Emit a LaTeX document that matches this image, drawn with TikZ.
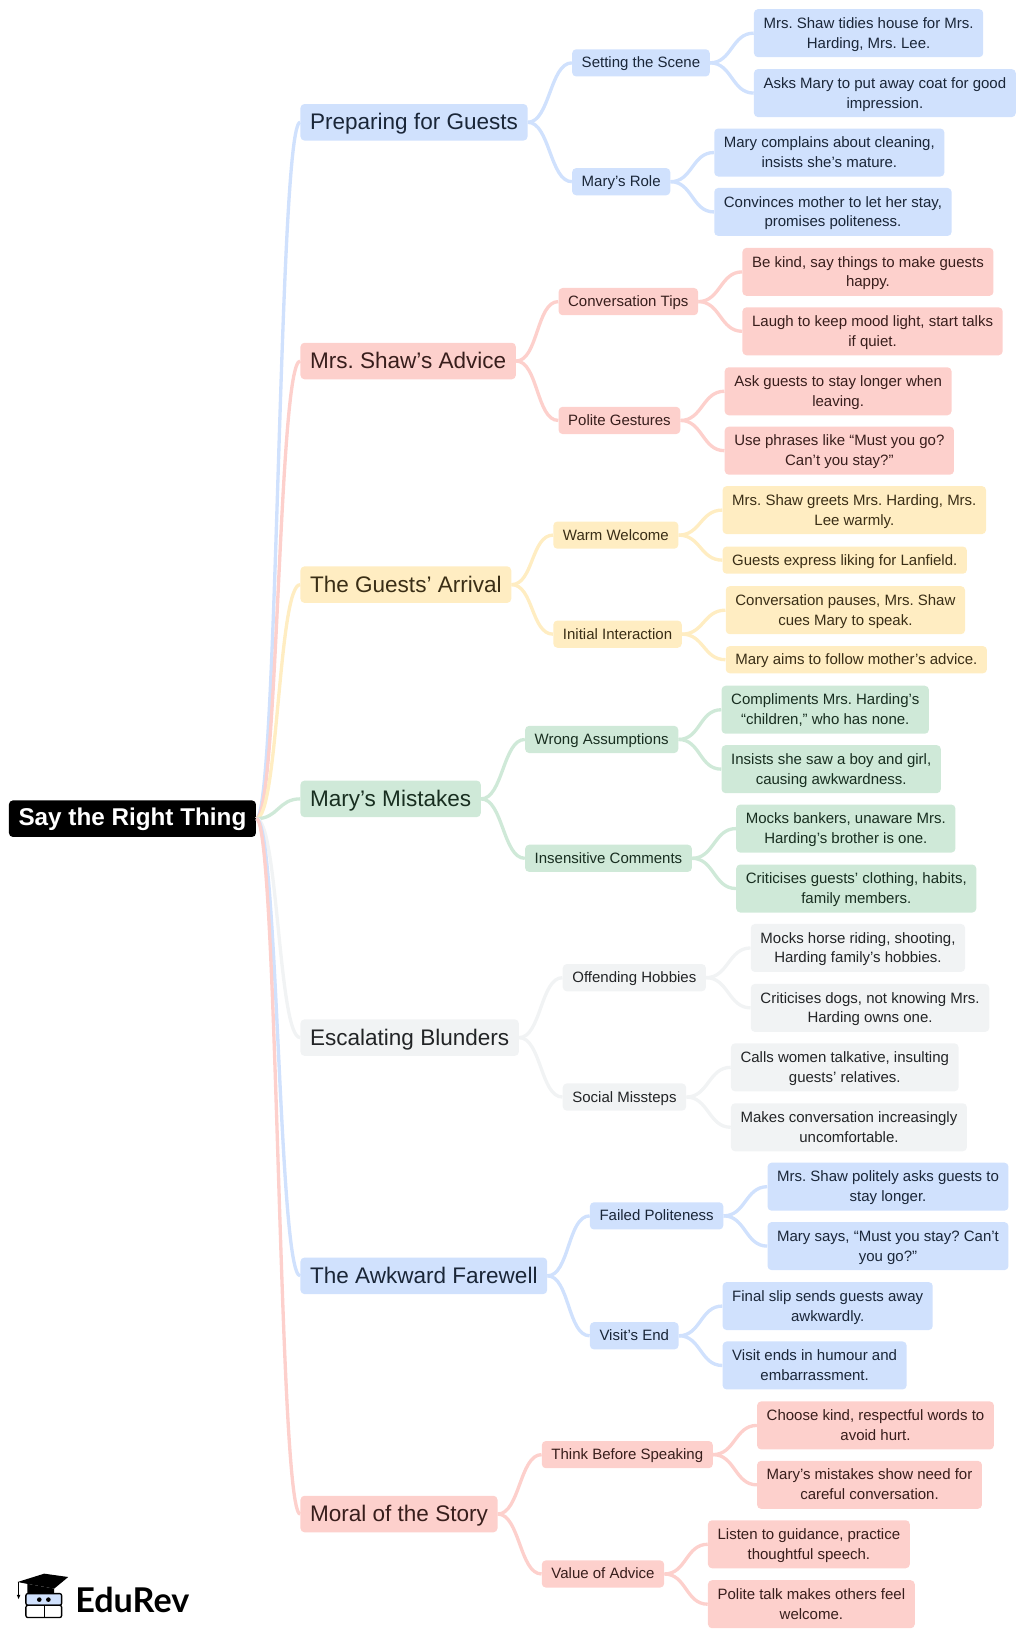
\documentclass[tikz,border=0pt]{standalone}
\usepackage{fontspec}
\setmainfont{Liberation Sans}
\newfontfamily\logofont{Lato}
\frenchspacing
\definecolor{mapblue}{HTML}{D0E1FD}
\definecolor{mapred}{HTML}{FDD0CC}
\definecolor{mapyellow}{HTML}{FFEDC2}
\definecolor{mapgreen}{HTML}{CFE9D8}
\definecolor{mapgray}{HTML}{F1F3F4}
\tikzset{
  box/.style={anchor=west, rounded corners=3pt, inner xsep=7.2pt, inner ysep=0pt, align=center},
  tintblue/.style={fill=mapblue, text={rgb,255:red,26;green,38;blue,56}},
  tintred/.style={fill=mapred, text={rgb,255:red,56;green,30;blue,28}},
  tintyellow/.style={fill=mapyellow, text={rgb,255:red,58;green,46;blue,22}},
  tintgreen/.style={fill=mapgreen, text={rgb,255:red,24;green,46;blue,32}},
  tintgray/.style={fill=mapgray, text={rgb,255:red,34;green,36;blue,38}},
  rootbox/.style={box, fill=black, text=white, font=\fontsize{18.2}{21}\selectfont\bfseries, minimum height=27.4pt,
    execute at begin node={\rule{0pt}{14.5pt}}, execute at end node={\rule[-4pt]{0pt}{4pt}}},
  topic/.style={box, font=\fontsize{16.9}{20}\selectfont, minimum height=27.4pt,
    execute at begin node={\rule{0pt}{15pt}}, execute at end node={\rule[-3.6pt]{0pt}{3.6pt}}},
  sub/.style={box, font=\fontsize{11.25}{14.9}\selectfont, minimum height=20.4pt,
    execute at begin node={\rule{0pt}{10pt}}, execute at end node={\rule[-2.5pt]{0pt}{2.5pt}}},
  leaf/.style={sub, minimum height=36pt,
    execute at begin node={\rule{0pt}{25pt}}},
  leafone/.style={sub},
  link/.style={line width=2.5pt, to path={.. controls +(21,0) and +(-21,0) .. (\tikztotarget)}},
}
\begin{document}
\begin{tikzpicture}[x=0.7837pt,y=-0.7819pt]
  \useasboundingbox (0.7,-1.3) rectangle (980.7,1568);
  \node[rootbox] (root) at (9,784) {Say the Right Thing};
  % main topics
  \node[topic, tintblue] (guests) at (288,116) {Preparing for Guests};
  \node[topic, tintred] (advice) at (288,345) {Mrs. Shaw’s Advice};
  \node[topic, tintyellow] (arrival) at (288,559.5) {The Guests’ Arrival};
  \node[topic, tintgreen] (mistakes) at (288,765) {Mary’s Mistakes};
  \node[topic, tintgray] (blunders) at (288,994) {Escalating Blunders};
  \node[topic, tintblue] (farewell) at (288,1222.5) {The Awkward Farewell};
  \node[topic, tintred] (moral) at (288,1451) {Moral of the Story};
  % subtopics
  \node[sub, tintblue] (scene) at (548,59) {Setting the Scene};
  \node[sub, tintblue] (role) at (548,173) {Mary’s Role};
  \node[sub, tintred] (tips) at (535,288) {Conversation Tips};
  \node[sub, tintred] (gestures) at (535,402) {Polite Gestures};
  \node[sub, tintyellow] (welcome) at (530,512) {Warm Welcome};
  \node[sub, tintyellow] (interact) at (530,607) {Initial Interaction};
  \node[sub, tintgreen] (assume) at (503,708) {Wrong Assumptions};
  \node[sub, tintgreen] (comments) at (503,822) {Insensitive Comments};
  \node[sub, tintgray] (hobbies) at (539,936.5) {Offending Hobbies};
  \node[sub, tintgray] (missteps) at (539,1051) {Social Missteps};
  \node[sub, tintblue] (polite) at (565,1165) {Failed Politeness};
  \node[sub, tintblue] (visit) at (565,1280) {Visit’s End};
  \node[sub, tintred] (think) at (519,1394) {Think Before Speaking};
  \node[sub, tintred] (value) at (519,1508.5) {Value of Advice};
  % leaves
  \node[leaf, tintblue] (tidy) at (722,30.5) {Mrs. Shaw tidies house for Mrs.\\Harding, Mrs. Lee.};
  \node[leaf, tintblue] (coat) at (722,88) {Asks Mary to put away coat for good\\impression.};
  \node[leaf, tintblue] (complain) at (684,145) {Mary complains about cleaning,\\insists she’s mature.};
  \node[leaf, tintblue] (stay) at (684,202) {Convinces mother to let her stay,\\promises politeness.};
  \node[leaf, tintred] (kind) at (711,259.5) {Be kind, say things to make guests\\happy.};
  \node[leaf, tintred] (laugh) at (711,316.5) {Laugh to keep mood light, start talks\\if quiet.};
  \node[leaf, tintred] (longer) at (694,374) {Ask guests to stay longer when\\leaving.};
  \node[leaf, tintred] (phrases) at (694,431) {Use phrases like “Must you go?\\Can’t you stay?”};
  \node[leaf, tintyellow] (greets) at (692,488) {Mrs. Shaw greets Mrs. Harding, Mrs.\\Lee warmly.};
  \node[leafone, tintyellow] (liking) at (692,536) {Guests express liking for Lanfield.};
  \node[leaf, tintyellow] (pauses) at (695,584) {Conversation pauses, Mrs. Shaw\\cues Mary to speak.};
  \node[leafone, tintyellow] (aims) at (695,631.5) {Mary aims to follow mother’s advice.};
  \node[leaf, tintgreen] (children) at (691,679.5) {Compliments Mrs. Harding’s\\“children,” who has none.};
  \node[leaf, tintgreen] (insists) at (691,736.5) {Insists she saw a boy and girl,\\causing awkwardness.};
  \node[leaf, tintgreen] (bankers) at (705,793.5) {Mocks bankers, unaware Mrs.\\Harding’s brother is one.};
  \node[leaf, tintgreen] (clothing) at (705,851) {Criticises guests’ clothing, habits,\\family members.};
  \node[leaf, tintgray] (riding) at (719,908) {Mocks horse riding, shooting,\\Harding family’s hobbies.};
  \node[leaf, tintgray] (dogs) at (719,965.5) {Criticises dogs, not knowing Mrs.\\Harding owns one.};
  \node[leaf, tintgray] (women) at (700,1022.5) {Calls women talkative, insulting\\guests’ relatives.};
  \node[leaf, tintgray] (uneasy) at (700,1080) {Makes conversation increasingly\\uncomfortable.};
  \node[leaf, tintblue] (asks) at (735,1137) {Mrs. Shaw politely asks guests to\\stay longer.};
  \node[leaf, tintblue] (says) at (735,1194) {Mary says, “Must you stay? Can’t\\you go?”};
  \node[leaf, tintblue] (slip) at (692,1251.5) {Final slip sends guests away\\awkwardly.};
  \node[leaf, tintblue] (humour) at (692,1308.5) {Visit ends in humour and\\embarrassment.};
  \node[leaf, tintred] (words) at (725,1366) {Choose kind, respectful words to\\avoid hurt.};
  \node[leaf, tintred] (need) at (725,1423) {Mary’s mistakes show need for\\careful conversation.};
  \node[leaf, tintred] (listen) at (678,1480) {Listen to guidance, practice\\thoughtful speech.};
  \node[leaf, tintred] (talk) at (678,1537.5) {Polite talk makes others feel\\welcome.};
  % root links
  \draw[link, mapblue] (root.east) to (guests.west);
  \draw[link, mapred] (root.east) to (advice.west);
  \draw[link, mapyellow] (root.east) to (arrival.west);
  \draw[link, mapgreen] (root.east) to (mistakes.west);
  \draw[link, mapgray] (root.east) to (blunders.west);
  \draw[link, mapblue] (root.east) to (farewell.west);
  \draw[link, mapred] (root.east) to (moral.west);
  % topic links
  \draw[link, mapblue] (guests.east) to (scene.west);
  \draw[link, mapblue] (guests.east) to (role.west);
  \draw[link, mapred] (advice.east) to (tips.west);
  \draw[link, mapred] (advice.east) to (gestures.west);
  \draw[link, mapyellow] (arrival.east) to (welcome.west);
  \draw[link, mapyellow] (arrival.east) to (interact.west);
  \draw[link, mapgreen] (mistakes.east) to (assume.west);
  \draw[link, mapgreen] (mistakes.east) to (comments.west);
  \draw[link, mapgray] (blunders.east) to (hobbies.west);
  \draw[link, mapgray] (blunders.east) to (missteps.west);
  \draw[link, mapblue] (farewell.east) to (polite.west);
  \draw[link, mapblue] (farewell.east) to (visit.west);
  \draw[link, mapred] (moral.east) to (think.west);
  \draw[link, mapred] (moral.east) to (value.west);
  % subtopic links
  \draw[link, mapblue] (scene.east) to (tidy.west);
  \draw[link, mapblue] (scene.east) to (coat.west);
  \draw[link, mapblue] (role.east) to (complain.west);
  \draw[link, mapblue] (role.east) to (stay.west);
  \draw[link, mapred] (tips.east) to (kind.west);
  \draw[link, mapred] (tips.east) to (laugh.west);
  \draw[link, mapred] (gestures.east) to (longer.west);
  \draw[link, mapred] (gestures.east) to (phrases.west);
  \draw[link, mapyellow] (welcome.east) to (greets.west);
  \draw[link, mapyellow] (welcome.east) to (liking.west);
  \draw[link, mapyellow] (interact.east) to (pauses.west);
  \draw[link, mapyellow] (interact.east) to (aims.west);
  \draw[link, mapgreen] (assume.east) to (children.west);
  \draw[link, mapgreen] (assume.east) to (insists.west);
  \draw[link, mapgreen] (comments.east) to (bankers.west);
  \draw[link, mapgreen] (comments.east) to (clothing.west);
  \draw[link, mapgray] (hobbies.east) to (riding.west);
  \draw[link, mapgray] (hobbies.east) to (dogs.west);
  \draw[link, mapgray] (missteps.east) to (women.west);
  \draw[link, mapgray] (missteps.east) to (uneasy.west);
  \draw[link, mapblue] (polite.east) to (asks.west);
  \draw[link, mapblue] (polite.east) to (says.west);
  \draw[link, mapblue] (visit.east) to (slip.west);
  \draw[link, mapblue] (visit.east) to (humour.west);
  \draw[link, mapred] (think.east) to (words.west);
  \draw[link, mapred] (think.east) to (need.west);
  \draw[link, mapred] (value.east) to (listen.west);
  \draw[link, mapred] (value.east) to (talk.west);
  % logo
  \fill[black] (17.5,1516.2) -- (43,1508.2) -- (66,1511.4) -- (52.6,1522.5) -- (27,1518) -- cycle;
  \fill[black] (27,1518) -- (52.6,1522.5) -- (52.6,1527.5) -- (27,1527.5) -- cycle;
  \draw[black, line width=0.7pt] (18.5,1516.2) -- (18.5,1529.5);
  \fill[black] (18.5,1532.5) -- (16.8,1528.5) -- (20.2,1528.5) -- cycle;
  \draw[black, line width=1pt, fill=mapblue, rounded corners=1.5pt] (25.5,1527.3) rectangle (59.7,1538.5);
  \draw[black, line width=1pt, rounded corners=1.5pt] (25.5,1538.5) rectangle (59.7,1550.3);
  \draw[black, line width=1pt] (43,1538.5) -- (43,1550.3);
  \fill[black] (38.3,1533.1) circle (2.2) (47,1533.1) circle (2.2);
  \node[anchor=base west, inner sep=0pt, font=\fontsize{25.6}{28}\logofont\bfseries, text=black] (edurev) at (72.5,1545.5) {EduRev};
\end{tikzpicture}
\end{document}
